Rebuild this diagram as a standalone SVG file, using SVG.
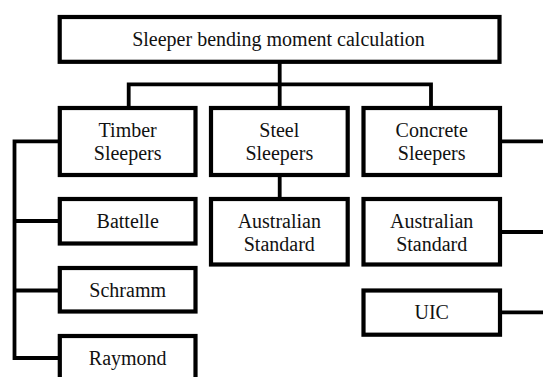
<svg xmlns="http://www.w3.org/2000/svg" width="543" height="377" viewBox="0 0 543 377">
  <style>
    .box { fill: #ffffff; stroke: #000000; stroke-width: 4.2; }
    .con { fill: none; stroke: #000000; stroke-width: 3.8; stroke-linejoin: miter; stroke-linecap: butt; }
    .t { font-family: "Liberation Serif", "Times New Roman", serif; font-size: 20px; fill: #111111; text-anchor: middle; }
  </style>
  <rect width="543" height="377" fill="#ffffff"/>
  <g id="connectors">
    <path class="con" d="M279.7 62 V106"/>
    <path class="con" d="M128.7 106 V84.3 H431 V106"/>
    <path class="con" d="M279.7 175 V199"/>
    <path class="con" d="M59.8 141.3 H14.5 V358 H59.8"/>
    <path class="con" d="M14.5 221 H59.8"/>
    <path class="con" d="M14.5 290.5 H59.8"/>
    <path class="con" d="M500 141.3 H545"/>
    <path class="con" d="M500 232 H545"/>
    <path class="con" d="M500 312.3 H545"/>
  </g>
  <g id="root">
    <rect class="box" x="59.7" y="17" width="439.8" height="44.8"/>
    <text class="t" x="278.5" y="46">Sleeper bending moment calculation</text>
  </g>
  <g id="timber">
    <rect class="box" x="59.8" y="108" width="135.7" height="67"/>
    <text class="t" x="127.7" y="137.3">Timber</text>
    <text class="t" x="127.7" y="160.3">Sleepers</text>
  </g>
  <g id="steel">
    <rect class="box" x="211" y="108" width="136.7" height="67"/>
    <text class="t" x="279.3" y="137.3">Steel</text>
    <text class="t" x="279.3" y="160.3">Sleepers</text>
  </g>
  <g id="concrete">
    <rect class="box" x="363.5" y="108" width="136.5" height="67"/>
    <text class="t" x="431.7" y="137.3">Concrete</text>
    <text class="t" x="431.7" y="160.3">Sleepers</text>
  </g>
  <g id="battelle">
    <rect class="box" x="59.8" y="199" width="135.7" height="44.5"/>
    <text class="t" x="127.7" y="227.7">Battelle</text>
  </g>
  <g id="schramm">
    <rect class="box" x="59.8" y="268" width="135.7" height="43.5"/>
    <text class="t" x="127.7" y="296.6">Schramm</text>
  </g>
  <g id="raymond">
    <rect class="box" x="59.8" y="336" width="135.7" height="50"/>
    <text class="t" x="127.7" y="364.8">Raymond</text>
  </g>
  <g id="steel-as">
    <rect class="box" x="211" y="199" width="136.7" height="65.5"/>
    <text class="t" x="279.3" y="228.3">Australian</text>
    <text class="t" x="279.3" y="251">Standard</text>
  </g>
  <g id="concrete-as">
    <rect class="box" x="363.5" y="199" width="136.5" height="65.5"/>
    <text class="t" x="431.7" y="228.3">Australian</text>
    <text class="t" x="431.7" y="251">Standard</text>
  </g>
  <g id="uic">
    <rect class="box" x="363.5" y="290.5" width="136.5" height="44.2"/>
    <text class="t" x="431.7" y="319.3">UIC</text>
  </g>
</svg>
